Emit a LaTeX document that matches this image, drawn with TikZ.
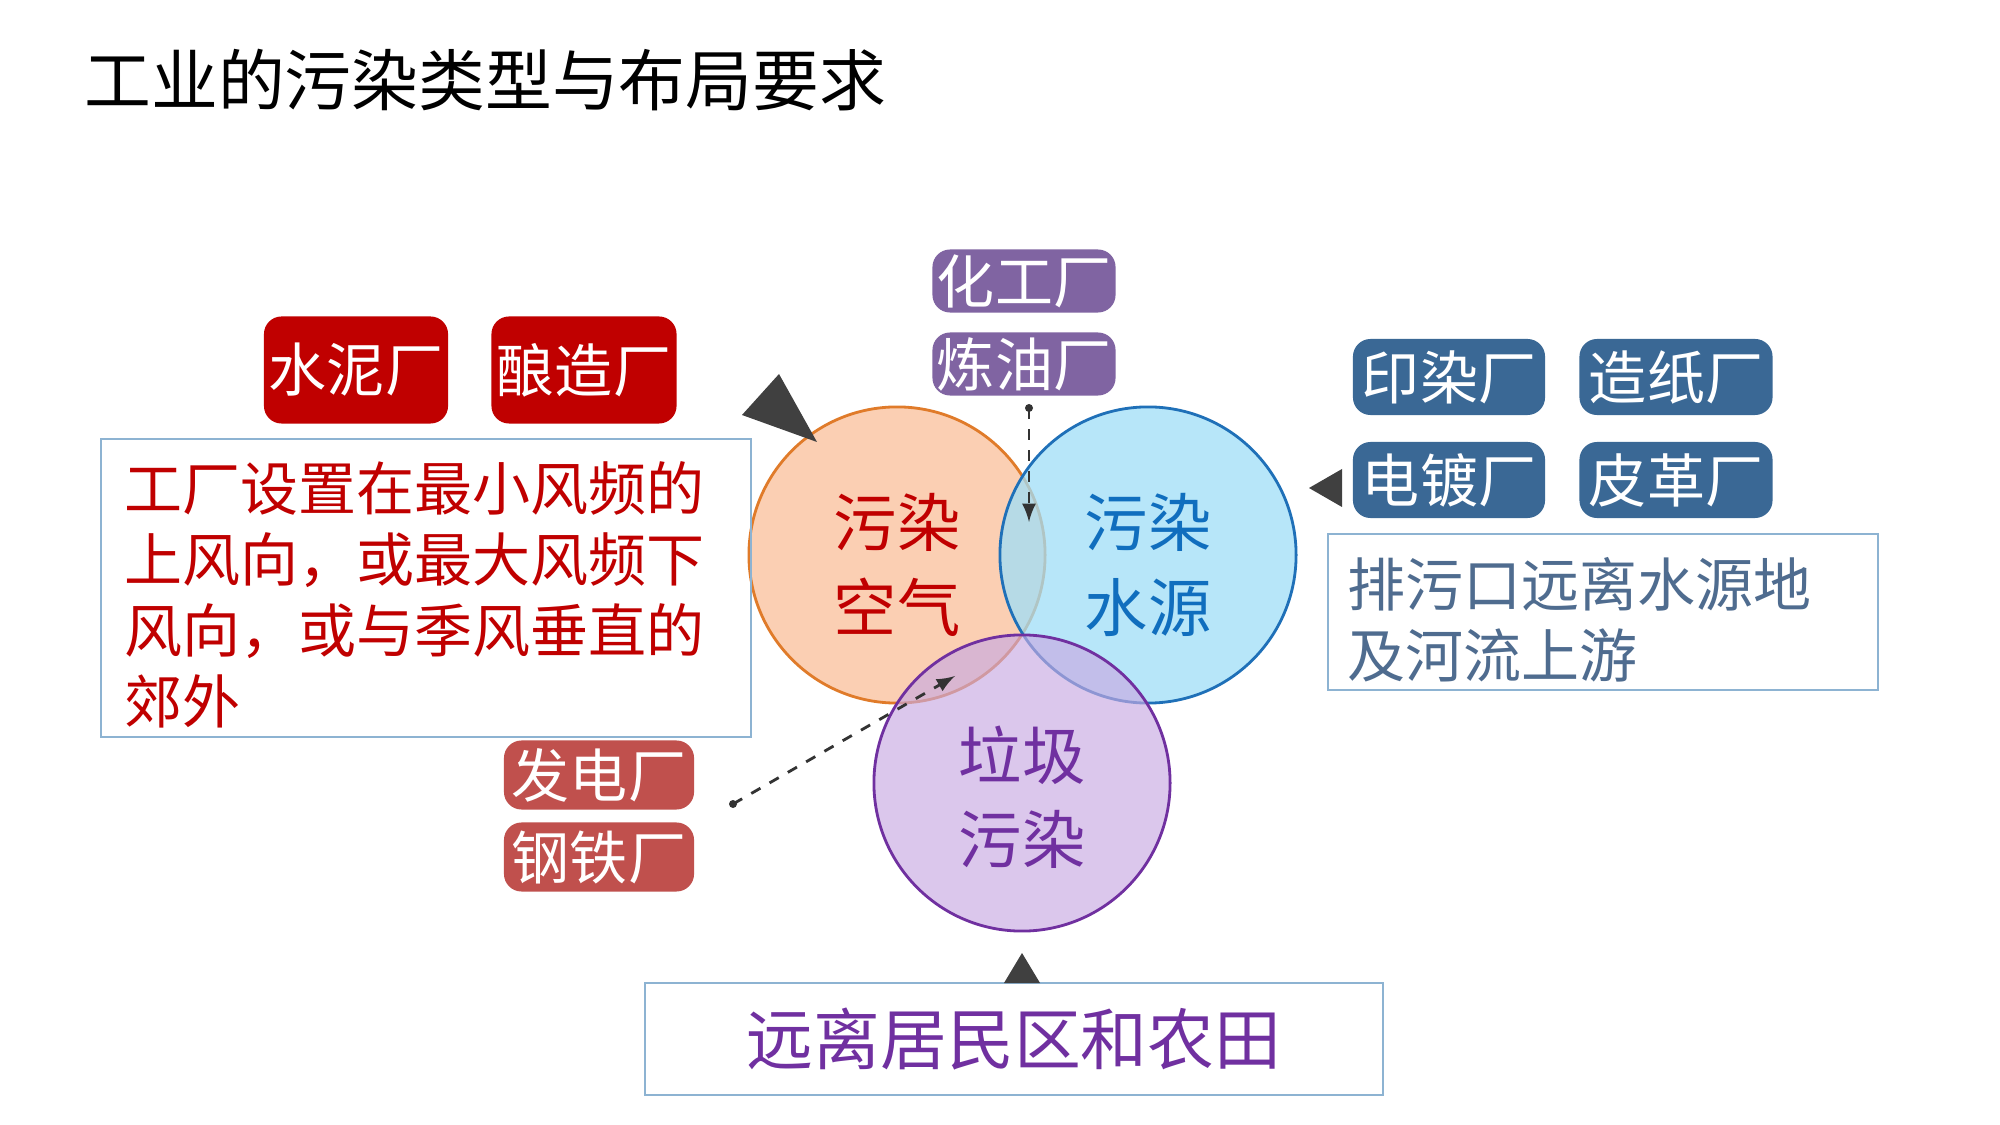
\documentclass[tikz,border=0pt]{standalone}
\usepackage{fontspec}
\setmainfont{Noto Sans CJK SC}
\usetikzlibrary{calc}
\definecolor{boxred}{HTML}{C00000}
\definecolor{boxpurple}{HTML}{8064A2}
\definecolor{boxblue}{HTML}{3A6895}
\definecolor{boxorange}{HTML}{C0504D}
\definecolor{framebl}{HTML}{8DB3D2}
\definecolor{textgrey}{HTML}{4F6C8F}
\tikzset{
  factory/.style={rounded corners=5pt, text=white, inner sep=0pt, minimum height=#1},
  note/.style={draw=framebl, line width=0.6pt, inner sep=0pt},
  ring/.style={circle, line width=0.8pt, minimum size=2.96cm, inner sep=0pt}
}
\begin{document}
\begin{tikzpicture}[x=0.01cm, y=-0.01cm]
  \useasboundingbox (0,0) rectangle (2000,1125);
  \fill[white] (0,0) rectangle (2000,1125);

  \node[anchor=west, font=\fontsize{19}{22}\selectfont] (title) at (72,80) {工业的污染类型与布局要求};

  % circles
  \node[ring, draw={rgb,255:red,224;green,123;blue,42}, fill={rgb,255:red,250;green,196;blue,160}, fill opacity=0.8] (air) at (897,555) {};
  \node[ring, draw={rgb,255:red,31;green,112;blue,184}, fill={rgb,255:red,160;green,222;blue,248}, fill opacity=0.75] (water) at (1148,555) {};
  \node[ring, draw={rgb,255:red,112;green,48;blue,160}, fill={rgb,255:red,200;green,170;blue,226}, fill opacity=0.65] (waste) at (1022,783) {};
  \node[text=boxred, align=center, font=\fontsize{18}{24}\selectfont] (airtxt) at (897,565) {污染\\空气};
  \node[text={rgb,255:red,16;green,110;blue,190}, align=center, font=\fontsize{18}{24}\selectfont] (watertxt) at (1148,565) {污染\\水源};
  \node[text={rgb,255:red,112;green,48;blue,160}, align=center, font=\fontsize{18}{24}\selectfont] (wastetxt) at (1022,797) {垃圾\\污染};

  % factories
  \node[factory=1.07cm, fill=boxred, minimum width=1.84cm, font=\fontsize{16.5}{20}\selectfont] (cement) at (356,370) {水泥厂};
  \node[factory=1.07cm, fill=boxred, minimum width=1.85cm, font=\fontsize{16.5}{20}\selectfont] (brewery) at (584,370) {酿造厂};
  \node[factory=0.63cm, fill=boxpurple, minimum width=1.83cm, font=\fontsize{16.5}{20}\selectfont] (chemical) at (1024,281) {化工厂};
  \node[factory=0.63cm, fill=boxpurple, minimum width=1.83cm, font=\fontsize{16.5}{20}\selectfont] (refinery) at (1024,364) {炼油厂};
  \node[factory=0.76cm, fill=boxblue, minimum width=1.92cm, font=\fontsize{16.5}{20}\selectfont] (dyeing) at (1449,377) {印染厂};
  \node[factory=0.76cm, fill=boxblue, minimum width=1.93cm, font=\fontsize{16.5}{20}\selectfont] (paper) at (1676,377) {造纸厂};
  \node[factory=0.76cm, fill=boxblue, minimum width=1.92cm, font=\fontsize{16.5}{20}\selectfont] (plating) at (1449,480) {电镀厂};
  \node[factory=0.76cm, fill=boxblue, minimum width=1.93cm, font=\fontsize{16.5}{20}\selectfont] (leather) at (1676,480) {皮革厂};
  \node[factory=0.69cm, fill=boxorange, minimum width=1.90cm, font=\fontsize{16.5}{20}\selectfont] (power) at (599,775) {发电厂};
  \node[factory=0.69cm, fill=boxorange, minimum width=1.90cm, font=\fontsize{16.5}{20}\selectfont] (steel) at (599,857) {钢铁厂};

  % notes
  \node[note, minimum width=6.49cm, minimum height=2.98cm] (airnote) at (426,588) {};
  \node[anchor=north west, text=boxred, align=left, font=\fontsize{16.5}{20.2}\selectfont] (airtext) at (112,449) {工厂设置在最小风频的\\上风向，或最大风频下\\风向，或与季风垂直的\\郊外};
  \node[note, minimum width=5.49cm, minimum height=1.56cm] (waternote) at (1603,612) {};
  \node[anchor=north west, text=textgrey, align=left, font=\fontsize{16.5}{20.2}\selectfont] (watertext) at (1335,545) {排污口远离水源地\\及河流上游};
  \node[note, minimum width=7.38cm, minimum height=1.12cm, text={rgb,255:red,112;green,48;blue,160}, font=\fontsize{19}{22}\selectfont] (wastenote) at (1014,1039) {远离居民区和农田};

  % pointers
  \fill[black!75] (779,374) -- (742,415) -- (817,442) -- cycle;
  \fill[black!75] (1309,488) -- (1342,469) -- (1342,507) -- cycle;
  \fill[black!75] (1022,953) -- (1004,983) -- (1040,983) -- cycle;

  \coordinate (oiltop) at (1029,408);
  \coordinate (oilend) at (1029,522);
  \coordinate (powtop) at (733,804);
  \coordinate (powend) at (955,676);
  \fill[black!80] (oiltop) circle (4);
  \fill[black!80] (powtop) circle (4);
  \draw[dashed, thick, black!80, -latex] (oiltop) -- (oilend);
  \draw[dashed, thick, black!80, -latex] (powtop) -- (powend);
\end{tikzpicture}
\end{document}
